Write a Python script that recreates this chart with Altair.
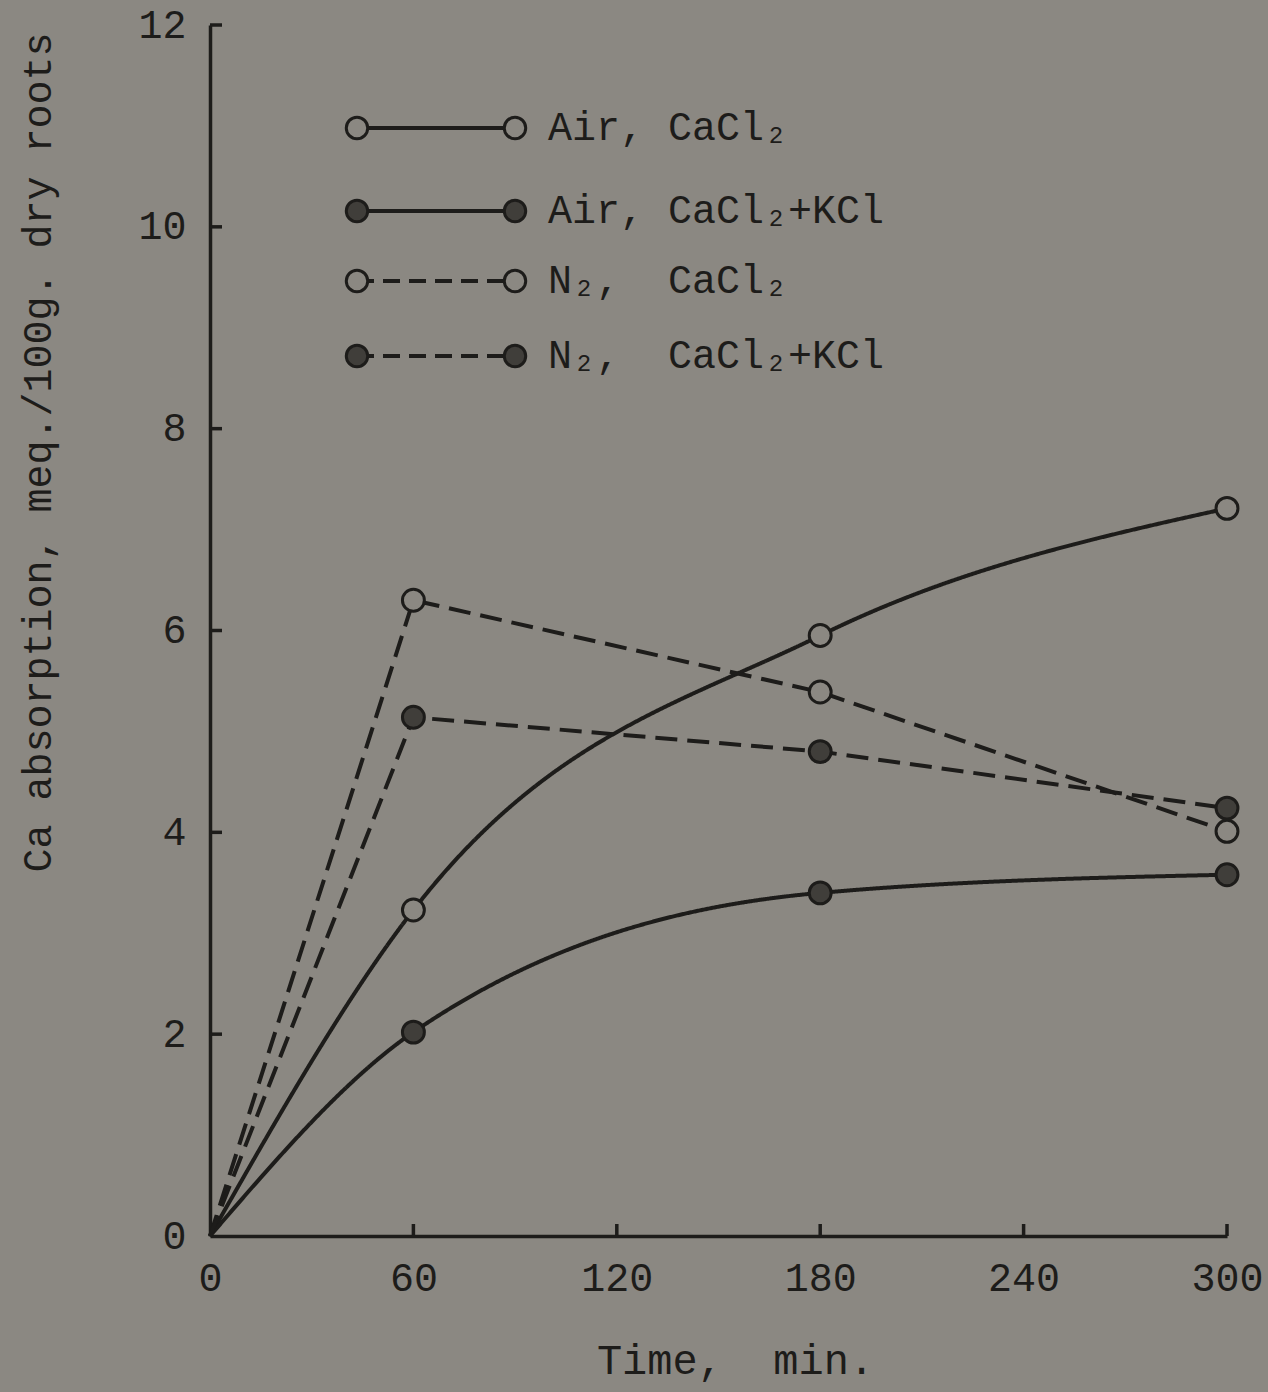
import altair as alt
import pandas as pd

# ---- data ----
times = [0, 60, 180, 300]
air_cacl2 = [0, 3.23, 5.95, 7.21]
air_cacl2_kcl = [0, 2.02, 3.40, 3.58]
n2_cacl2 = [0, 6.30, 5.39, 4.01]
n2_cacl2_kcl = [0, 5.14, 4.80, 4.24]

NB = "\u00a0"
series_names = ["Air," + NB + "CaCl₂", "Air," + NB + "CaCl₂+KCl",
                "N₂," + NB * 2 + "CaCl₂", "N₂," + NB * 2 + "CaCl₂+KCl"]
series_values = [air_cacl2, air_cacl2_kcl, n2_cacl2, n2_cacl2_kcl]
series_dashed = [False, False, True, True]
series_filled = [False, True, False, True]

x_ticks = [0, 60, 120, 180, 240, 300]
y_ticks = [0, 2, 4, 6, 8, 10, 12]

# ---- styles ----
BG = "#8b8882"
INK = "#1d1c1a"
DARK_FILL = "#403e3a"
FONT = "Liberation Mono"
W, H = 1017, 1211

rows = []
for name, vals, dashed, filled in zip(series_names, series_values, series_dashed, series_filled):
    for t, v in zip(times, vals):
        rows.append({"time": t, "value": v, "series": name, "filled": filled})
df = pd.DataFrame(rows)

xscale = alt.Scale(domain=[0, 300], nice=False, zero=True)
yscale = alt.Scale(domain=[0, 12], nice=False, zero=True)

xax = alt.Axis(values=x_ticks, title="Time," + NB * 2 + "min.", grid=False, ticks=False,
               domainColor=INK, domainWidth=3.5, labelColor=INK, labelFont=FONT,
               labelFontSize=40, labelPadding=22, labelBaseline="top", format="d",
               titleFont=FONT, titleFontSize=42, titleFontWeight="normal",
               titleColor=INK, titleX=525, titleY=124, titleBaseline="middle",
               titleAlign="center", labelFlush=False)
yax = alt.Axis(values=y_ticks, title="Ca absorption, meq./100g. dry roots",
               grid=False, ticks=False, domainColor=INK, domainWidth=3.5, format="d",
               labelColor=INK, labelFont=FONT, labelFontSize=40, labelPadding=24,
               titleFont=FONT, titleFontSize=40, titleFontWeight="normal",
               titleColor=INK, titleX=-172, titleY=427, titleAngle=270,
               titleAlign="center", titleBaseline="middle", labelFlush=False)

layers = []
for name, dashed in zip(series_names, series_dashed):
    sub = df[df["series"] == name]
    line = alt.Chart(sub).mark_line(
        color=INK, strokeWidth=4,
        strokeDash=[22, 10] if dashed else [1, 0],
        interpolate="linear" if dashed else "monotone",
    ).encode(
        x=alt.X("time:Q", scale=xscale, axis=xax),
        y=alt.Y("value:Q", scale=yscale, axis=yax),
    )
    layers.append(line)

pts = df[df["time"] > 0]
open_pts = alt.Chart(pts[~pts["filled"]]).mark_point(
    shape="circle", size=480, filled=True, fill=BG, stroke=INK,
    strokeWidth=3, opacity=1, fillOpacity=1,
).encode(x=alt.X("time:Q", scale=xscale), y=alt.Y("value:Q", scale=yscale))
filled_pts = alt.Chart(pts[pts["filled"]]).mark_point(
    shape="circle", size=480, filled=True, fill=DARK_FILL, stroke=INK,
    strokeWidth=3, opacity=1, fillOpacity=1,
).encode(x=alt.X("time:Q", scale=xscale), y=alt.Y("value:Q", scale=yscale))
layers += [open_pts, filled_pts]

# inward ticks
xt = alt.Chart(pd.DataFrame({"t": x_ticks[1:]})).mark_rule(color=INK, strokeWidth=3.5).encode(
    x=alt.X("t:Q", scale=xscale), y=alt.value(H - 12), y2=alt.value(H))
yt = alt.Chart(pd.DataFrame({"t": y_ticks[1:]})).mark_rule(color=INK, strokeWidth=3.5).encode(
    y=alt.Y("t:Q", scale=yscale), x=alt.value(0), x2=alt.value(12))
layers += [xt, yt]

# custom legend (line with a marker at each end)
leg_y = [128 - 25, 211 - 25, 281 - 25, 356 - 25]
leg_x1, leg_x2 = 357 - 210, 515 - 210
leg = pd.DataFrame({"label": series_names, "py": leg_y,
                    "dashed": series_dashed, "filled": series_filled})
for i, r in leg.iterrows():
    one = leg.iloc[[i]]
    layers.append(alt.Chart(one).mark_rule(
        color=INK, strokeWidth=4,
        strokeDash=[17, 9] if r["dashed"] else [1, 0]).encode(
        x=alt.value(leg_x1), x2=alt.value(leg_x2), y=alt.Y("py:Q", scale=None)))
leg_pts = pd.DataFrame([{"px": px, "py": y, "filled": f}
                        for y, f in zip(leg_y, series_filled) for px in (leg_x1, leg_x2)])
layers.append(alt.Chart(leg_pts[~leg_pts["filled"]]).mark_point(
    shape="circle", size=460, filled=True, fill=BG, stroke=INK, strokeWidth=3,
    opacity=1, fillOpacity=1).encode(
    x=alt.X("px:Q", scale=None), y=alt.Y("py:Q", scale=None)))
layers.append(alt.Chart(leg_pts[leg_pts["filled"]]).mark_point(
    shape="circle", size=460, filled=True, fill=DARK_FILL, stroke=INK, strokeWidth=3,
    opacity=1, fillOpacity=1).encode(
    x=alt.X("px:Q", scale=None), y=alt.Y("py:Q", scale=None)))
layers.append(alt.Chart(leg).mark_text(
    font=FONT, fontSize=40, color=INK, align="left", baseline="middle").encode(
    x=alt.value(548 - 210), y=alt.Y("py:Q", scale=None), text="label:N"))

chart = alt.layer(*layers).properties(
    width=W, height=H,
    autosize=alt.AutoSizeParams(type="none"),
    padding={"left": 210, "top": 25, "right": 41, "bottom": 156},
    background=BG,
).configure_view(stroke=None)

chart.save("out.html", embed_options={"renderer": "svg", "actions": False})
